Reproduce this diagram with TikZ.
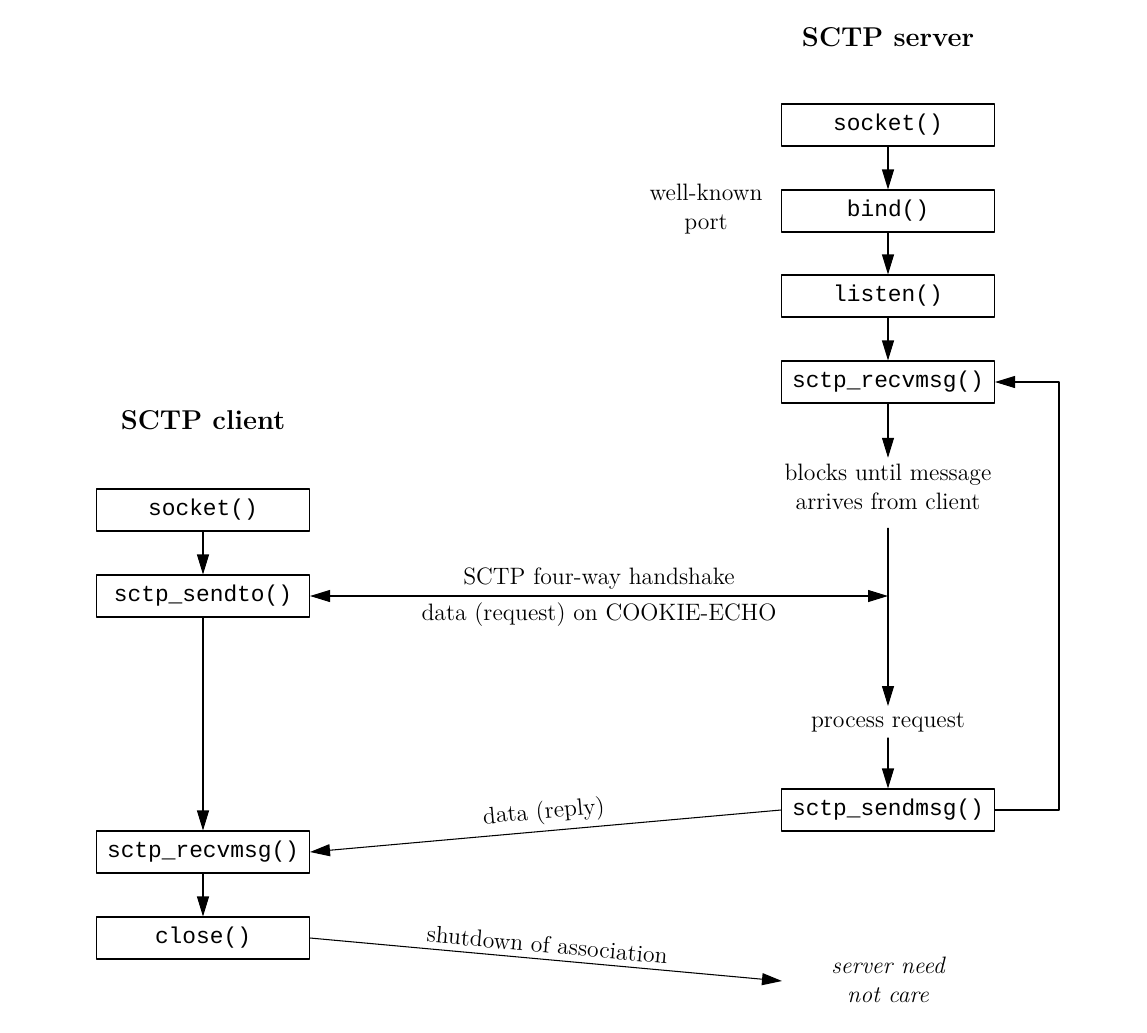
\documentclass[tikz,border=0pt]{standalone}
\usepackage{fontspec}
\setmonofont{Liberation Mono}
\usepackage{tikz}
\usetikzlibrary{arrows.meta}

\begin{document}
\begin{tikzpicture}[line cap=round,line join=round,line width=0.6pt,x=0.02cm,y=-0.02cm,
    >={Triangle[length=0.4cm,width=0.24cm]},
    font=\fontsize{13.5}{16.5}\selectfont,
    fn/.style={draw,minimum width=4.26cm,minimum height=0.84cm,inner sep=0pt,font=\fontsize{13}{15}\ttfamily},
    txt/.style={align=center},
    ttl/.style={font=\fontsize{15.5}{18}\bfseries}]
\useasboundingbox (0,0) rectangle (1147,1032);
% server side
\node[ttl] (stitle) at (888,37) {SCTP server};
\node[fn] (ssock) at (888,125) {socket()};
\node[fn] (sbind) at (888,211) {bind()};
\node[fn] (slisten) at (888,296) {listen()};
\node[fn] (srecv) at (888,382) {sctp\_recvmsg()};
\node[txt] (port) at (706,209) {well-known\\port};
\node[txt] (block) at (888,487) {blocks until message\\arrives from client};
\coordinate (hs) at (888,596);
\node[txt] (proc) at (888,722) {process request};
\node[fn] (ssend) at (888,810) {sctp\_sendmsg()};
\node[txt,font=\fontsize{13.5}{16.5}\itshape] (care) at (888,980) {server need\\not care};
\coordinate (shut) at (782,981);
% client side
\node[ttl] (ctitle) at (203,420) {SCTP client};
\node[fn] (csock) at (203,510) {socket()};
\node[fn] (csend) at (203,596) {sctp\_sendto()};
\node[fn] (crecv) at (203,852) {sctp\_recvmsg()};
\node[fn] (cclose) at (203,938) {close()};
% connectors
\draw[->] (ssock) -- (sbind);
\draw[->] (sbind) -- (slisten);
\draw[->] (slisten) -- (srecv);
\draw[->] (srecv) -- (block);
\draw[->,shorten <=0.24cm] (block) -- (proc);
\draw[->] (proc) -- (ssend);
\draw[->] (ssend.east) -- ++(64,0) |- (srecv.east);
\draw[<->] (csend.east) -- (hs)
    node[midway,above] {SCTP four-way handshake}
    node[midway,below] {data (request) on COOKIE-ECHO};
\draw[->] (ssend.west) -- (crecv.east) node[midway,above,sloped] {data (reply)};
\draw[->] (csock) -- (csend);
\draw[->] (csend) -- (crecv);
\draw[->] (crecv) -- (cclose);
\draw[->] (cclose.east) -- (shut) node[midway,above,sloped] {shutdown of association};
\end{tikzpicture}
\end{document}
